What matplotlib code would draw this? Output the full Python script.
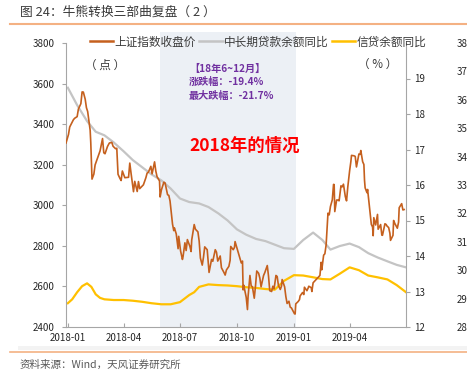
import matplotlib
matplotlib.use('Agg')
import matplotlib.pyplot as plt
from matplotlib.lines import Line2D
from matplotlib.patches import Rectangle
import pandas as pd

plt.rcParams['font.family'] = ['Noto Sans CJK SC', 'DejaVu Sans']
plt.rcParams['axes.unicode_minus'] = False

# ---- data ----
sh_dates = [
    '2017-12-29',
    '2018-01-02', '2018-01-04', '2018-01-08', '2018-01-10', '2018-01-12', '2018-01-16', '2018-01-18',
    '2018-01-22', '2018-01-24', '2018-01-26', '2018-01-29', '2018-01-31', '2018-02-02', '2018-02-06',
    '2018-02-07', '2018-02-09', '2018-02-12', '2018-02-14', '2018-02-22', '2018-02-26', '2018-02-28',
    '2018-03-02', '2018-03-06', '2018-03-09', '2018-03-13', '2018-03-15', '2018-03-19', '2018-03-21',
    '2018-03-23', '2018-03-26', '2018-03-28', '2018-03-30', '2018-04-03', '2018-04-09', '2018-04-11',
    '2018-04-13', '2018-04-17', '2018-04-19', '2018-04-23', '2018-04-25', '2018-04-27', '2018-05-03',
    '2018-05-07', '2018-05-09', '2018-05-11', '2018-05-15', '2018-05-17', '2018-05-21', '2018-05-23',
    '2018-05-25', '2018-05-29', '2018-05-30', '2018-06-01', '2018-06-05', '2018-06-07', '2018-06-11',
    '2018-06-13', '2018-06-15', '2018-06-19', '2018-06-21', '2018-06-22', '2018-06-25', '2018-06-27',
    '2018-06-28', '2018-06-29', '2018-07-02', '2018-07-05', '2018-07-06', '2018-07-09', '2018-07-11',
    '2018-07-13', '2018-07-17', '2018-07-19', '2018-07-20', '2018-07-24', '2018-07-26', '2018-07-30',
    '2018-08-01', '2018-08-03', '2018-08-06', '2018-08-08', '2018-08-10', '2018-08-14', '2018-08-16',
    '2018-08-17', '2018-08-21', '2018-08-23', '2018-08-27', '2018-08-29', '2018-08-31', '2018-09-04',
    '2018-09-06', '2018-09-10', '2018-09-12', '2018-09-14', '2018-09-18', '2018-09-20', '2018-09-21',
    '2018-09-25', '2018-09-27', '2018-09-28', '2018-10-08', '2018-10-10', '2018-10-11', '2018-10-12',
    '2018-10-16', '2018-10-18', '2018-10-19', '2018-10-22', '2018-10-24', '2018-10-26', '2018-10-29',
    '2018-10-31', '2018-11-02', '2018-11-05', '2018-11-07', '2018-11-09', '2018-11-13', '2018-11-15',
    '2018-11-19', '2018-11-21', '2018-11-23', '2018-11-26', '2018-11-28', '2018-11-30', '2018-12-03',
    '2018-12-05', '2018-12-07', '2018-12-10', '2018-12-12', '2018-12-13', '2018-12-17', '2018-12-19',
    '2018-12-21', '2018-12-24', '2018-12-26', '2018-12-28',
    '2019-01-02', '2019-01-03', '2019-01-04', '2019-01-08', '2019-01-10', '2019-01-11', '2019-01-15',
    '2019-01-17', '2019-01-18', '2019-01-22', '2019-01-24', '2019-01-25', '2019-01-29', '2019-01-30',
    '2019-02-01', '2019-02-12', '2019-02-14', '2019-02-15', '2019-02-18', '2019-02-20', '2019-02-22',
    '2019-02-25', '2019-02-27', '2019-03-01', '2019-03-04', '2019-03-06', '2019-03-07', '2019-03-08',
    '2019-03-11', '2019-03-13', '2019-03-15', '2019-03-18', '2019-03-20', '2019-03-22', '2019-03-25',
    '2019-03-27', '2019-03-29', '2019-04-01', '2019-04-03', '2019-04-04', '2019-04-08', '2019-04-10',
    '2019-04-12', '2019-04-16', '2019-04-18', '2019-04-19', '2019-04-22', '2019-04-24', '2019-04-25',
    '2019-04-26', '2019-04-29', '2019-04-30', '2019-05-06', '2019-05-08', '2019-05-09', '2019-05-10',
    '2019-05-13', '2019-05-15', '2019-05-16', '2019-05-17', '2019-05-21', '2019-05-23', '2019-05-24',
    '2019-05-28', '2019-05-30', '2019-05-31', '2019-06-03', '2019-06-05', '2019-06-06', '2019-06-10',
    '2019-06-11', '2019-06-13', '2019-06-17', '2019-06-19', '2019-06-20', '2019-06-24', '2019-06-26',
    '2019-06-28',
]
sh_close = [
    3307,
    3349, 3386, 3410, 3422, 3429, 3437, 3474,
    3501, 3559, 3558, 3523, 3481, 3462, 3370,
    3309, 3129, 3154, 3199, 3268, 3329, 3259,
    3254, 3290, 3307, 3310, 3291, 3279, 3281,
    3153, 3133, 3122, 3169, 3136, 3138, 3208,
    3159, 3067, 3118, 3068, 3117, 3082, 3101,
    3136, 3159, 3163, 3192, 3155, 3214, 3169,
    3141, 3120, 3041, 3075, 3114, 3110, 3052,
    3049, 3021, 2907, 2875, 2889, 2859, 2813,
    2786, 2847, 2775, 2733, 2747, 2815, 2777,
    2831, 2798, 2772, 2829, 2905, 2882, 2869,
    2824, 2740, 2705, 2744, 2795, 2781, 2705,
    2669, 2733, 2724, 2781, 2769, 2725, 2750,
    2692, 2669, 2656, 2681, 2699, 2729, 2797,
    2781, 2792, 2821, 2716, 2725, 2583, 2606,
    2546, 2486, 2550, 2654, 2603, 2598, 2542,
    2603, 2676, 2665, 2641, 2598, 2654, 2668,
    2703, 2651, 2579, 2575, 2601, 2588, 2654,
    2649, 2605, 2585, 2602, 2634, 2598, 2550,
    2516, 2527, 2498, 2494,
    2465, 2464, 2514, 2526, 2535, 2553, 2570,
    2560, 2596, 2579, 2592, 2601, 2594, 2575,
    2618, 2654, 2719, 2682, 2754, 2761, 2804,
    2961, 2953, 2994, 3027, 3103, 3102, 2969,
    3026, 3026, 3022, 3096, 3091, 3104, 3043,
    3022, 3090, 3171, 3216, 3246, 3244, 3241,
    3189, 3253, 3251, 3270, 3215, 3201, 3124,
    3086, 3062, 3078, 2906, 2893, 2850, 2939,
    2903, 2938, 2955, 2882, 2905, 2853, 2852,
    2909, 2905, 2899, 2890, 2862, 2827, 2852,
    2925, 2910, 2887, 2917, 2988, 3008, 2977,
    2979,
]

# 中长期贷款余额同比 (%), read every half month
mlt_dates = [
    '2018-01-01', '2018-01-16', '2018-02-01', '2018-02-15', '2018-03-01', '2018-03-16',
    '2018-04-01', '2018-04-16', '2018-05-01', '2018-05-16', '2018-06-01', '2018-06-16',
    '2018-07-01', '2018-07-16', '2018-08-01', '2018-08-16', '2018-09-01', '2018-09-16',
    '2018-10-01', '2018-10-16', '2018-11-01', '2018-11-16', '2018-12-01', '2018-12-16',
    '2019-01-01', '2019-01-16', '2019-02-01', '2019-02-16', '2019-03-01', '2019-03-16',
    '2019-04-01', '2019-04-16', '2019-05-01', '2019-05-16', '2019-06-01', '2019-06-16',
    '2019-07-01',
]
mlt_loan_yoy = [
    18.74, 18.25, 17.8, 17.5, 17.4, 17.2, 16.95, 16.7, 16.5, 16.3, 16.13, 15.9,
    15.62, 15.52, 15.48, 15.38, 15.2, 15.0, 14.75, 14.6, 14.48, 14.42, 14.32, 14.22,
    14.2, 14.45, 14.66, 14.45, 14.18, 14.28, 14.35, 14.25, 14.08, 13.96, 13.85, 13.75,
    13.68,
]

# 信贷余额同比 (%)
credit_dates = [
    '2018-01-01', '2018-01-08', '2018-01-16', '2018-01-24', '2018-02-01', '2018-02-08',
    '2018-02-15', '2018-02-22', '2018-03-01', '2018-03-16', '2018-04-01', '2018-04-16',
    '2018-05-01', '2018-05-16', '2018-06-01', '2018-06-16', '2018-07-01', '2018-07-16',
    '2018-07-24', '2018-08-01', '2018-08-16', '2018-09-01', '2018-09-16', '2018-10-01',
    '2018-10-16', '2018-11-01', '2018-11-16', '2018-12-01', '2018-12-16', '2019-01-01',
    '2019-01-16', '2019-02-01', '2019-02-16', '2019-03-01', '2019-03-16', '2019-04-01',
    '2019-04-16', '2019-05-01', '2019-05-16', '2019-06-01', '2019-06-16', '2019-07-01',
]
credit_yoy = [
    12.67, 12.78, 12.98, 13.15, 13.23, 13.13,
    12.92, 12.82, 12.78, 12.76, 12.76, 12.74,
    12.71, 12.67, 12.64, 12.64, 12.7, 12.9,
    12.98, 13.13, 13.2, 13.18, 13.17, 13.15,
    13.12, 13.1, 13.07, 13.05, 13.3, 13.46,
    13.45, 13.4, 13.35, 13.34, 13.5, 13.68,
    13.6, 13.45, 13.4, 13.34, 13.18, 12.98,
]

x_ticks = ['2018-01-01', '2018-04-01', '2018-07-01', '2018-10-01', '2019-01-01', '2019-04-01']
x_labels = ['2018-01', '2018-04', '2018-07', '2018-10', '2019-01', '2019-04']
shade_span = ['2018-05-30', '2019-01-05']

C_SH = '#C5601E'
C_MLT = '#C4C4C4'
C_CREDIT = '#FFC000'
C_SHADE = '#ECF0F5'
C_AXIS = '#A6A6A6'
C_TXT = '#262626'

# ---- figure ----
fig = plt.figure(figsize=(4.67, 3.81), dpi=100)
ax = fig.add_axes([66 / 467, 1 - 327 / 381, 340 / 467, 284 / 381])
ax2 = ax.twinx()
ax3 = ax.twinx()
ax.set_zorder(3)
ax.patch.set_visible(False)

ax2.axvspan(pd.Timestamp(shade_span[0]), pd.Timestamp(shade_span[1]), ymin=0, ymax=1.039,
            color=C_SHADE, lw=0, zorder=0, clip_on=False)
ax2.plot(pd.to_datetime(mlt_dates), mlt_loan_yoy, color=C_MLT, lw=1.6,
         solid_joinstyle='round', zorder=2)
ax2.plot(pd.to_datetime(credit_dates), credit_yoy, color=C_CREDIT, lw=1.6,
         solid_joinstyle='round', zorder=2)
ax.plot(pd.to_datetime(sh_dates), sh_close, color=C_SH, lw=1.2, zorder=3)

ax.set_xlim(pd.Timestamp('2017-12-29'), pd.Timestamp('2019-07-01'))
ax.set_ylim(2400, 3800)
ax.set_yticks(range(2400, 3801, 200))
ax2.set_ylim(12, 20)
ax2.set_yticks(range(12, 20))
ax3.set_ylim(28, 38)
ax3.set_yticks(range(28, 39))

ax.set_xticks(pd.to_datetime(x_ticks))
ax.set_xticklabels(x_labels)

for s in ['top', 'right']:
    ax.spines[s].set_visible(False)
for s in ['top', 'left', 'bottom', 'right']:
    ax2.spines[s].set_visible(s == 'right')
    ax3.spines[s].set_visible(False)
ax3.spines['right'].set_position(('axes', 1.142))
ax.spines['left'].set_color(C_AXIS)
ax.spines['bottom'].set_color(C_AXIS)
ax2.spines['right'].set_color(C_AXIS)

ax.tick_params(axis='y', direction='out', length=3, color=C_AXIS, labelsize=7, labelcolor=C_TXT, pad=5)
ax.tick_params(axis='x', direction='in', length=3, color=C_AXIS, labelsize=7, labelcolor=C_TXT, pad=4)
ax2.tick_params(axis='y', direction='out', length=3, color=C_AXIS, labelsize=7, labelcolor=C_TXT, pad=3)
ax3.tick_params(axis='y', length=0, labelsize=7, labelcolor=C_TXT, pad=2)

# legend
handles = [Line2D([], [], color=C_SH, lw=1.8), Line2D([], [], color=C_MLT, lw=1.8),
           Line2D([], [], color=C_CREDIT, lw=1.8)]
labels = ['上证指数收盘价', '中长期贷款余额同比', '信贷余额同比']
ax.legend(handles, labels, loc='center', bbox_to_anchor=(258 / 467, 1 - 42 / 381),
          bbox_transform=fig.transFigure, ncol=3, frameon=False, fontsize=8.4,
          handlelength=2.0, handletextpad=0.1, columnspacing=0.3, labelcolor='#3A3A3A')

# axis unit labels
fig.text(105 / 467, 1 - 65 / 381, '（ 点 ）', ha='center', va='center', fontsize=8.4, color='#3A3A3A')
fig.text(378 / 467, 1 - 65 / 381, '（ % ）', ha='center', va='center', fontsize=8.4, color='#3A3A3A')

# annotations
purple = '#7030A0'
fig.text(189 / 467, 1 - 69 / 381, '【18年6~12月】', ha='left', va='center', fontsize=7.3,
         color=purple, fontweight='bold')
fig.text(189 / 467, 1 - 82 / 381, '涨跌幅：-19.4%', ha='left', va='center', fontsize=7.3,
         color=purple, fontweight='bold')
fig.text(189 / 467, 1 - 96 / 381, '最大跌幅：-21.7%', ha='left', va='center', fontsize=7.3,
         color=purple, fontweight='bold')
fig.text(245 / 467, 1 - 146 / 381, '2018年的情况', ha='center', va='center', fontsize=12.5,
         color='#FF0000', fontweight='bold')

# title, source, separators
fig.text(20 / 467, 1 - 12 / 381, '图 24：牛熊转换三部曲复盘（ 2 ）', ha='left', va='center',
         fontsize=9.2, color='#3A3A3A')
fig.add_artist(Line2D([10 / 467, 1], [1 - 24 / 381] * 2, transform=fig.transFigure,
                      color='#F4B183', lw=1.5))
fig.add_artist(Rectangle((18 / 467, 1 - 350 / 381), 1, 4 / 381, transform=fig.transFigure,
                         color='#F3F3F3', lw=0))
fig.add_artist(Line2D([10 / 467, 1], [1 - 352 / 381] * 2, transform=fig.transFigure,
                      color='#F4B183', lw=1.2))
fig.text(20 / 467, 1 - 365 / 381, '资料来源：Wind，天风证券研究所', ha='left', va='center',
         fontsize=7.6, color='#595959')

fig.savefig('out.png', dpi=100)
